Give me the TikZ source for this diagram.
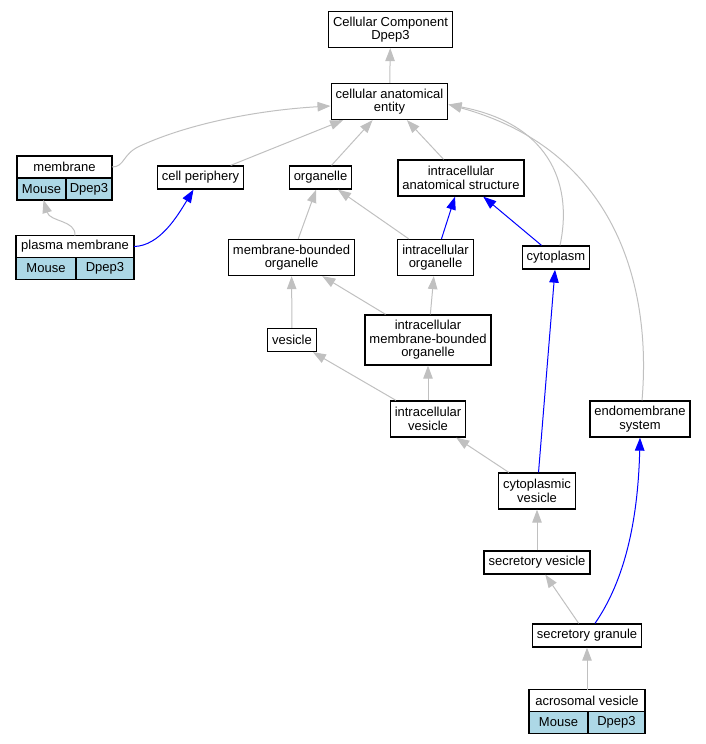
\documentclass[tikz,border=0pt]{standalone}
\usepackage{fontspec}
\setmainfont{Liberation Sans}
\usepackage{xcolor}
\usepackage{tikz}
\definecolor{edgegray}{RGB}{192, 192, 192}
\definecolor{speciesblue}{RGB}{173, 216, 230}
\definecolor{partblue}{RGB}{0, 0, 255}
\usetikzlibrary{arrows.meta,positioning,calc}

\begin{document}
\begin{tikzpicture}[
    x=1pt, y=-1pt,
    term/.style={
        rectangle,
        draw=black,
        line width=1.3pt,
        fill=white,
        minimum height=23pt,
        inner xsep=4.5pt,
        inner ysep=2pt,
        align=center,
        font=\fontsize{13}{13.5}\selectfont
    },
    termtwo/.style={term, minimum height=36pt},
    termthree/.style={term, minimum height=50pt},
    recordtop/.style={term, minimum height=22pt, inner xsep=0pt, outer sep=0pt},
    cell/.style={term, fill=speciesblue, minimum height=22pt, inner xsep=0pt, outer sep=0pt, anchor=north west},
    isa/.style={draw=edgegray, line width=1pt, -{Triangle[length=13pt,width=9.5pt]}},
    partof/.style={draw=partblue, line width=1pt, -{Triangle[length=13pt,width=9.5pt]}}
]
    \useasboundingbox (0,0) rectangle (705,744);

    % Terms
    \node[termtwo] (cc) at (390.5,29.5) {Cellular Component\\Dpep3};
    \node[termtwo] (cae) at (389.5,101.5) {cellular anatomical\\entity};
    \node[recordtop, minimum width=95pt] (membrane) at (64.5,167) {membrane};
    \node[cell, minimum width=49pt] (membraneMouse) at (membrane.south west) {Mouse};
    \node[cell, minimum width=46pt] (membraneDpep3) at (membraneMouse.north east) {Dpep3};
    \node[term] (periphery) at (200.5,177.5) {cell periphery};
    \node[term] (organelle) at (320.5,177.5) {organelle};
    \node[termtwo] (ias) at (461,178) {intracellular\\anatomical structure};
    \node[recordtop, minimum width=118pt] (plasma) at (75,246.5) {plasma membrane};
    \node[cell, minimum width=60pt] (plasmaMouse) at (plasma.south west) {Mouse};
    \node[cell, minimum width=58pt] (plasmaDpep3) at (plasmaMouse.north east) {Dpep3};
    \node[termtwo] (mbo) at (291.5,257.5) {membrane-bounded\\organelle};
    \node[termtwo] (iorganelle) at (435.5,257.5) {intracellular\\organelle};
    \node[term] (cytoplasm) at (556,257.5) {cytoplasm};
    \node[term] (vesicle) at (292,340) {vesicle};
    \node[termthree] (imbo) at (428,340) {intracellular\\membrane-bounded\\organelle};
    \node[termtwo] (ivesicle) at (428,419) {intracellular\\vesicle};
    \node[termtwo] (endo) at (640,419) {endomembrane\\system};
    \node[termtwo] (cvesicle) at (537,491) {cytoplasmic\\vesicle};
    \node[term] (svesicle) at (537,562.5) {secretory vesicle};
    \node[term] (granule) at (587,635.5) {secretory granule};
    \node[recordtop, minimum width=116pt] (acrosome) at (587,700.5) {acrosomal vesicle};
    \node[cell, minimum width=59pt] (acrosomeMouse) at (acrosome.south west) {Mouse};
    \node[cell, minimum width=57pt] (acrosomeDpep3) at (acrosomeMouse.north east) {Dpep3};

    % is_a
    \draw[isa] (cae) -- (cc);
    \draw[isa] (membrane.east) .. controls (125,167) and (122,154) .. (140,146)
        .. controls (190,123) and (260,110) .. ([yshift=-4.5pt]cae.west);
    \draw[isa] (periphery) -- (cae);
    \draw[isa] (organelle) -- (cae);
    \draw[isa] (ias) -- (cae);
    \draw[isa] ([xshift=4pt]cytoplasm.north) .. controls (572,190) and (555,125) .. ([yshift=-3pt]cae.east);
    \draw[isa] ([xshift=2pt]endo.north) .. controls (652,285) and (615,150) .. ([yshift=-3pt]cae.east);
    \draw[isa] (plasma.north) .. controls (76,220) and (50,222) .. ([xshift=2pt]membraneMouse.south);
    \draw[isa] (mbo) -- (organelle);
    \draw[isa] (iorganelle) -- (organelle);
    \draw[isa] (vesicle) -- (mbo);
    \draw[isa] (imbo) -- (mbo);
    \draw[isa] (imbo) -- (iorganelle);
    \draw[isa] (ivesicle) -- (vesicle);
    \draw[isa] (ivesicle) -- (imbo);
    \draw[isa] (cvesicle) -- (ivesicle);
    \draw[isa] (svesicle) -- (cvesicle);
    \draw[isa] (granule) -- (svesicle);
    \draw[isa] (acrosome) -- (granule);

    % part_of
    \draw[partof] (plasma.east) .. controls (160,246) and (178,215) .. ([xshift=-7pt]periphery.south);
    \draw[partof] (iorganelle) -- (ias);
    \draw[partof] (cytoplasm) -- (ias);
    \draw[partof] (cvesicle) -- (cytoplasm);
    \draw[partof] ([xshift=8pt]granule.north) .. controls (625,580) and (638,520) .. (endo.south);
\end{tikzpicture}
\end{document}
